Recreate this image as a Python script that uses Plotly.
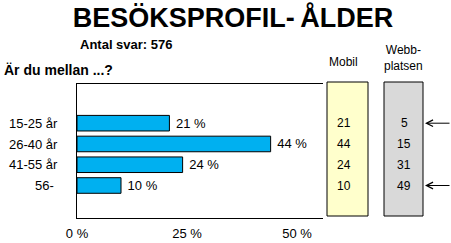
import plotly.graph_objects as go

categories = ["15-25 år", "26-40 år", "41-55 år", "56-\u00a0"]
values = [21, 44, 24, 10]
mobil = [21, 44, 24, 10]
webb = [5, 15, 31, 49]
x_ticks = [0, 25, 50]
x_ticklabels = ["0 %", "25 %", "50 %"]
arrow_rows = [0, 3]

FONT = "Liberation Sans, Arial, sans-serif"

fig = go.Figure()
fig.add_trace(go.Bar(
    x=values, y=categories, orientation="h", width=0.75,
    marker=dict(color="#00B0F0", line=dict(color="black", width=1)),
    text=[f"\u00a0{v} %" for v in values], textposition="outside",
    textfont=dict(family=FONT, size=13, color="black"),
    cliponaxis=False, hoverinfo="skip",
))

L, R, T, B = 77, 128, 84, 25
W, H = 451, 243
pw, ph = W - L - R, H - T - B

def px(x):
    return (x - L) / pw

def py(y):
    return (H - B - y) / ph

shapes = [
    dict(type="rect", xref="paper", yref="paper", x0=px(327), x1=px(368), y0=py(216), y1=py(82),
         fillcolor="#FFFFCC", line=dict(color="black", width=1), layer="below"),
    dict(type="rect", xref="paper", yref="paper", x0=px(384), x1=px(423), y0=py(216), y1=py(82),
         fillcolor="#D9D9D9", line=dict(color="black", width=1), layer="below"),
]

annotations = [
    dict(text="<b>Antal svar: 576</b>", xref="paper", yref="paper", x=px(78), y=py(44),
         xanchor="left", yanchor="middle", showarrow=False, font=dict(family=FONT, size=13, color="black")),
    dict(text="<b>Är du mellan ...?</b>", xref="paper", yref="paper", x=px(2), y=py(69.5),
         xanchor="left", yanchor="middle", showarrow=False, font=dict(family=FONT, size=14, color="black")),
    dict(text="Mobil", xref="paper", yref="paper", x=px(343.5), y=py(62),
         xanchor="center", yanchor="middle", showarrow=False, font=dict(family=FONT, size=12, color="black")),
    dict(text="Webb-<br>platsen", xref="paper", yref="paper", x=px(403), y=py(58.5),
         xanchor="center", yanchor="middle", showarrow=False, font=dict(family=FONT, size=12, color="black")),
]
for cat, m, w in zip(categories, mobil, webb):
    annotations.append(dict(text=str(m), xref="paper", yref="y", x=px(344), y=cat,
                            xanchor="center", yanchor="middle", showarrow=False,
                            font=dict(family=FONT, size=12, color="black")))
    annotations.append(dict(text=str(w), xref="paper", yref="y", x=px(404), y=cat,
                            xanchor="center", yanchor="middle", showarrow=False,
                            font=dict(family=FONT, size=12, color="black")))
for i in arrow_rows:
    annotations.append(dict(text="", xref="paper", yref="y", x=px(425), y=categories[i],
                            showarrow=True, arrowhead=5, arrowsize=1.3, arrowwidth=1,
                            arrowcolor="black", ax=40, ay=0))

fig.update_layout(
    width=W, height=H,
    margin=dict(l=L, r=R, t=T, b=B, pad=0, autoexpand=False),
    paper_bgcolor="white", plot_bgcolor="white",
    showlegend=False,
    title=dict(text="<b>BESÖKSPROFIL-\u2009ÅLDER</b>", xref="container", yref="container",
               x=233 / W, y=1 - 18 / H, xanchor="center", yanchor="middle",
               font=dict(family=FONT, size=27, color="black")),
    xaxis=dict(range=[0, 55.9], tickvals=x_ticks, ticktext=x_ticklabels, showgrid=False,
               zeroline=False, showline=True, mirror=True, linecolor="black", linewidth=1,
               ticks="", ticklabelstandoff=3, tickfont=dict(family=FONT, size=13, color="black"),
               fixedrange=True, automargin=False),
    yaxis=dict(range=[4.565, -1.887], showgrid=False, zeroline=False, showline=True,
               linecolor="black", linewidth=1, ticks="", ticklabelstandoff=16,
               tickfont=dict(family=FONT, size=13, color="black"), fixedrange=True,
               automargin=False),
    shapes=shapes, annotations=annotations,
)

fig.write_html("out.html")
